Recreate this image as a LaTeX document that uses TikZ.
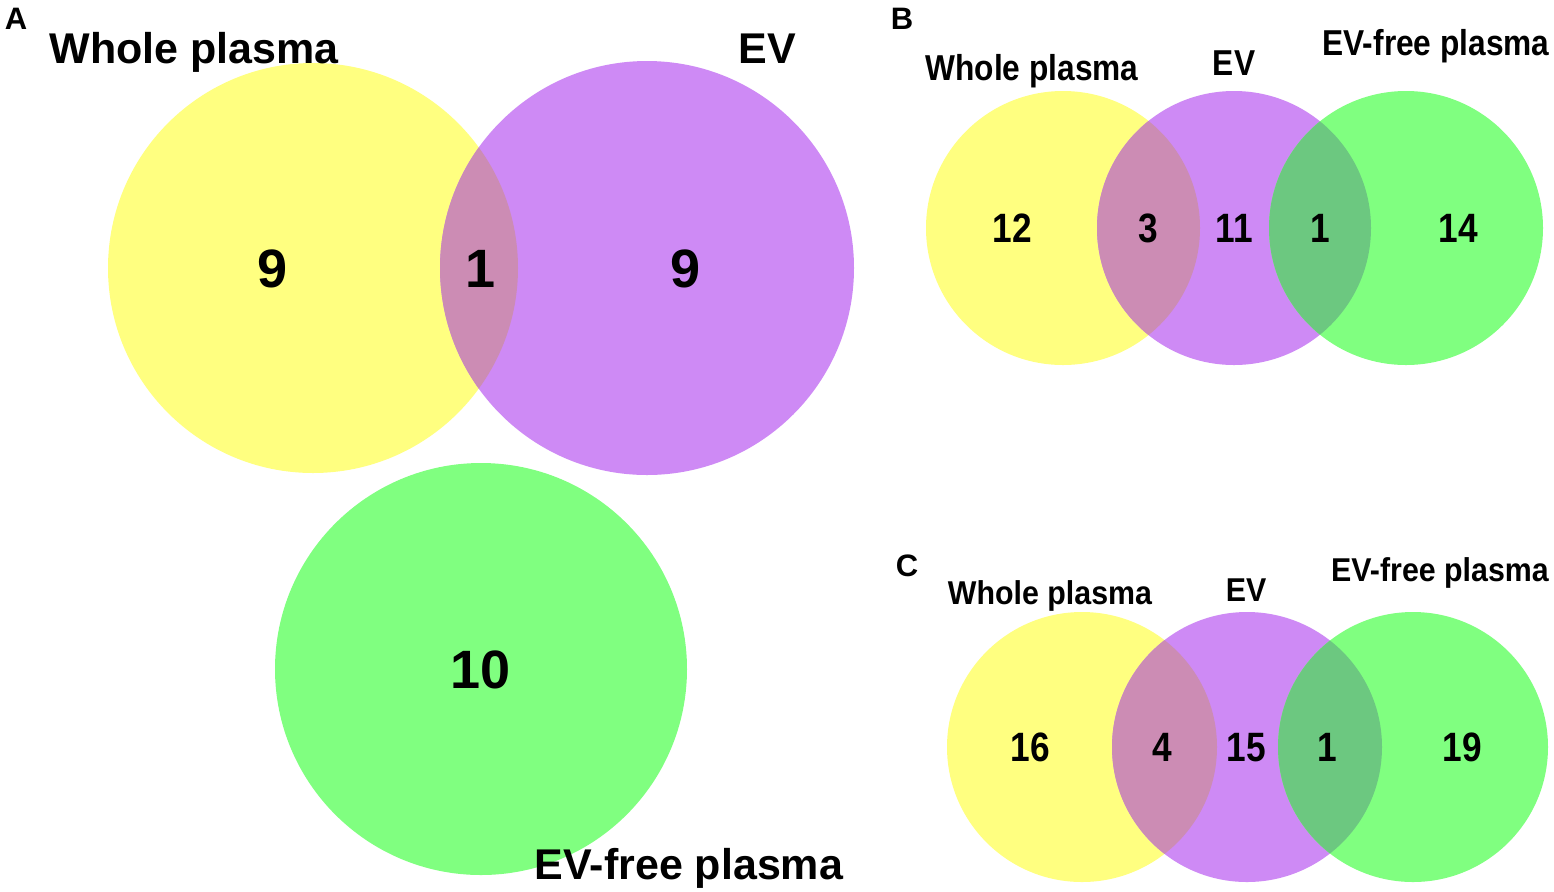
\documentclass[tikz,border=0pt]{standalone}
\usepackage{fontspec}
\newfontfamily\ar{Liberation Sans}[BoldFont={Liberation Sans Bold}]
\newfontfamily\arn{Liberation Sans}[BoldFont={Liberation Sans Bold},FakeStretch=0.88]
\newfontfamily\arc{Liberation Sans}[BoldFont={Liberation Sans Bold},FakeStretch=0.92]
\newfontfamily\ars{Liberation Sans}[BoldFont={Liberation Sans Bold},FakeStretch=0.86]
\definecolor{yel}{HTML}{FFFF80}
\definecolor{pur}{HTML}{CE8AF5}
\definecolor{yp}{HTML}{CC8CB4}
\definecolor{grn}{HTML}{80FF80}
\definecolor{pg}{HTML}{6CC880}
\begin{document}
\begin{tikzpicture}[x=0.5pt,y=-0.5pt,
  lab/.style={anchor=base,inner sep=0pt,text=black},
  bigl/.style={lab,font=\ar\bfseries\fontsize{21.5pt}{24pt}\selectfont},
  bign/.style={lab,font=\ar\bfseries\fontsize{27pt}{30pt}\selectfont},
  letl/.style={lab,font=\ar\bfseries\fontsize{15.5pt}{18pt}\selectfont},
  bl/.style={lab,font=\arn\bfseries\fontsize{18pt}{20pt}\selectfont},
  cl/.style={lab,font=\arc\bfseries\fontsize{16.5pt}{19pt}\selectfont},
  sn/.style={lab,font=\ars\bfseries\fontsize{20.5pt}{23pt}\selectfont}]
\useasboundingbox[fill=white] (0,0) rectangle (1554,891);
% ---------- Panel A ----------
\coordinate (ay) at (313,268);
\coordinate (ap) at (647,268);
\coordinate (ag) at (481,669);
\fill[yel] (ay) circle[radius=205];
\fill[pur] (ap) circle[radius=207];
\begin{scope}
  \clip (ay) circle[radius=205];
  \fill[yp] (ap) circle[radius=207];
\end{scope}
\fill[grn] (ag) circle[radius=206];
\node[letl] (la) at (16,29) {A};
\node[bigl] (a1) at (194,63) {Whole plasma};
\node[bigl] (a2) at (767,63) {EV};
\node[bigl] (a3) at (689,879) {EV-free plasma};
\node[bign] (an1) at (273,287) {9};
\node[bign] (an2) at (481,287) {1};
\node[bign] (an3) at (686,287) {9};
\node[bign] (an4) at (481,688) {10};
% ---------- Panel B ----------
\coordinate (by) at (1063,228);
\coordinate (bp) at (1234,228);
\coordinate (bg) at (1406,228);
\fill[yel] (by) circle[radius=137];
\fill[pur] (bp) circle[radius=137];
\fill[grn] (bg) circle[radius=137];
\begin{scope}
  \clip (by) circle[radius=137];
  \fill[yp] (bp) circle[radius=137];
\end{scope}
\begin{scope}
  \clip (bg) circle[radius=137];
  \fill[pg] (bp) circle[radius=137];
\end{scope}
\node[letl] (lb) at (902,29) {B};
\node[bl] (b1) at (1032,80) {Whole plasma};
\node[bl] (b2) at (1234,75) {EV};
\node[bl] (b3) at (1436,55) {EV-free plasma};
\node[sn] (bn1) at (1012,242) {12};
\node[sn] (bn2) at (1148,242) {3};
\node[sn] (bn3) at (1234,242) {11};
\node[sn] (bn4) at (1320,242) {1};
\node[sn] (bn5) at (1458,242) {14};
% ---------- Panel C ----------
\coordinate (cy) at (1082,747);
\coordinate (cp) at (1247,747);
\coordinate (cg) at (1413,747);
\fill[yel] (cy) circle[radius=135];
\fill[pur] (cp) circle[radius=135];
\fill[grn] (cg) circle[radius=135];
\begin{scope}
  \clip (cy) circle[radius=135];
  \fill[yp] (cp) circle[radius=135];
\end{scope}
\begin{scope}
  \clip (cg) circle[radius=135];
  \fill[pg] (cp) circle[radius=135];
\end{scope}
\node[letl] (lc) at (907,576) {C};
\node[cl] (c1) at (1050,604) {Whole plasma};
\node[cl] (c2) at (1246,601) {EV};
\node[cl] (c3) at (1440,581) {EV-free plasma};
\node[sn] (cn1) at (1030,761) {16};
\node[sn] (cn2) at (1162,761) {4};
\node[sn] (cn3) at (1246,761) {15};
\node[sn] (cn4) at (1327,761) {1};
\node[sn] (cn5) at (1462,761) {19};
\end{tikzpicture}
\end{document}
